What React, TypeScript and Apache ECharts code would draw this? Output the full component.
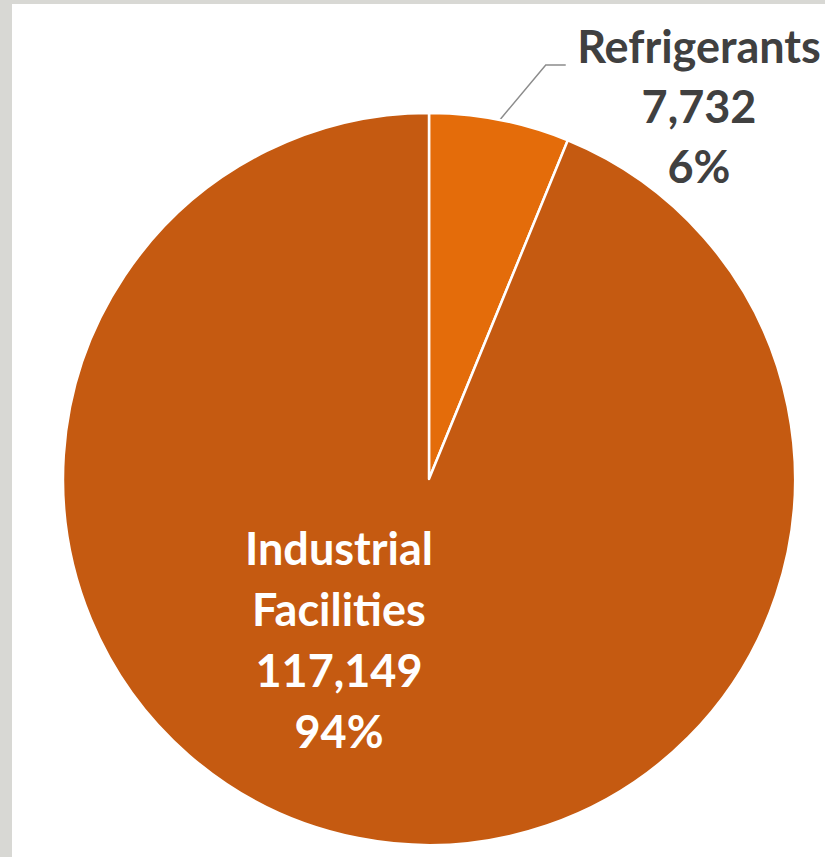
import React, { useEffect, useRef } from "react";
import * as echarts from "echarts";

const categories = ["Refrigerants", "Industrial Facilities"];
const values = [7732, 117149];
const colors = ["#E46C0A", "#C55A11"];

export default function App() {
  const ref = useRef<HTMLDivElement>(null);
  useEffect(() => {
    if (!ref.current) return;
    const chart = echarts.init(ref.current, undefined, { renderer: "svg" });
    const fmt = (p: any) =>
      `${String(p.name).replace(" ", "\n")}\n${Number(p.value).toLocaleString("en-US")}\n${Math.round(p.percent)}%`;
    chart.setOption({
      animation: false,
      backgroundColor: "#d8d8d4",
      graphic: [
        {
          type: "rect",
          z: -10,
          silent: true,
          shape: { x: 12, y: 4, width: 830, height: 870 },
          style: { fill: "#ffffff" },
        },
      ],
      series: [
        {
          type: "pie",
          center: [429, 479],
          radius: 366,
          startAngle: 90,
          clockwise: true,
          percentPrecision: 0,
          itemStyle: { borderColor: "#ffffff", borderWidth: 2.5 },
          data: categories.map((c, i) => ({
            name: c,
            value: values[i],
            itemStyle: { color: colors[i] },
            label:
              i === 0
                ? {
                    show: true,
                    position: "outside",
                    formatter: fmt,
                    color: "#404040",
                    fontFamily: "Lato",
                    fontWeight: "bold",
                    fontSize: 45,
                    lineHeight: 60,
                    align: "center",
                  }
                : {
                    show: true,
                    position: "inside",
                    formatter: fmt,
                    color: "#ffffff",
                    fontFamily: "Lato",
                    fontWeight: "bold",
                    fontSize: 45,
                    lineHeight: 61,
                    align: "center",
                  },
            labelLine:
              i === 0
                ? { show: true, length: 20, length2: 20, lineStyle: { color: "#8c8c8c", width: 1.5 } }
                : { show: false },
          })),
          labelLayout: (p: any) => {
            if (p.dataIndex === 0) {
              const p0 = p.labelLinePoints ? p.labelLinePoints[0] : [502, 115];
              return {
                x: 699,
                y: 106,
                align: "center",
                verticalAlign: "middle",
                labelLinePoints: [p0, [p0[0] + 46, 65], [p0[0] + 66, 65]],
              };
            }
            return { x: 339, y: 639, align: "center", verticalAlign: "middle" };
          },
        },
      ],
    });
    return () => chart.dispose();
  }, []);
  return (
    <div
      ref={ref}
      style={{ position: "fixed", left: 0, top: 0, width: 825, height: 857 }}
    />
  );
}
